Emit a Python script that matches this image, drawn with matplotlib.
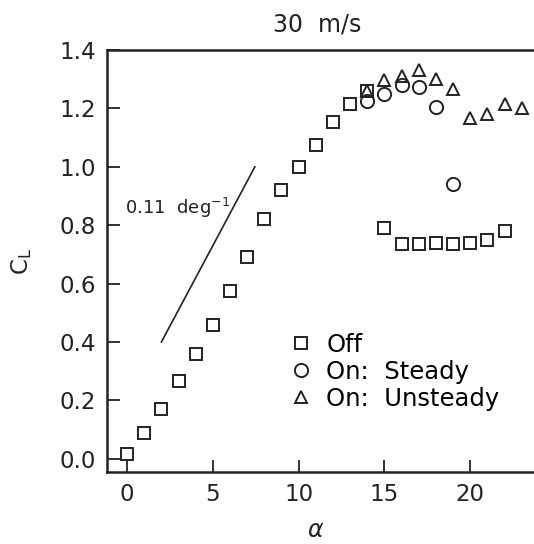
import numpy as np
import matplotlib.pyplot as plt

plt.rcParams['font.family'] = 'DejaVu Sans'

# data
alpha_off = [0, 1, 2, 3, 4, 5, 6, 7, 8, 9, 10, 11, 12, 13, 14,
             15, 16, 17, 18, 19, 20, 21, 22]
cl_off = [0.015, 0.09, 0.17, 0.265, 0.36, 0.46, 0.575, 0.69, 0.82, 0.92, 1.0,
          1.075, 1.155, 1.215, 1.26,
          0.79, 0.735, 0.735, 0.74, 0.735, 0.74, 0.75, 0.78]

alpha_steady = [14, 15, 16, 17, 18, 19]
cl_steady = [1.225, 1.25, 1.28, 1.275, 1.205, 0.94]

alpha_unsteady = [14, 15, 16, 17, 18, 19, 20, 21, 22, 23]
cl_unsteady = [1.26, 1.297, 1.31, 1.33, 1.302, 1.267, 1.168, 1.18, 1.216, 1.202]

# lift slope reference line
slope_x = [2.0, 7.45]
slope_y = [0.4, 1.0]

ink = '#222222'

fig = plt.figure(figsize=(5.34, 5.44), dpi=100)
ax = fig.add_axes([107 / 534, 1 - 472 / 544, 449 / 534, 422 / 544])

ax.plot(alpha_off, cl_off, 's', ms=9, mfc='none', mec=ink, mew=1.4,
        linestyle='none', label='Off')
ax.plot(alpha_steady, cl_steady, 'o', ms=9.5, mfc='none', mec=ink, mew=1.4,
        linestyle='none', label='On:  Steady')
ax.plot(alpha_unsteady, cl_unsteady, '^', ms=8, mfc='none', mec=ink, mew=1.4,
        linestyle='none', label='On:  Unsteady')

ax.plot(slope_x, slope_y, '-', color=ink, lw=1.2)
ax.text(-0.1, 0.86, '0.11  deg$^{-1}$', fontsize=13, color=ink,
        ha='left', va='center')

ax.set_xlim(-1.17, 25)
ax.set_ylim(-0.045, 1.4)
ax.set_xticks([0, 5, 10, 15, 20])
ax.set_yticks(np.arange(0, 1.41, 0.2))
ax.set_yticklabels(['%.1f' % v for v in np.arange(0, 1.41, 0.2)])

ax.tick_params(direction='in', length=9, width=1.3, labelsize=16.5,
               colors=ink, pad=8)
for s in ax.spines.values():
    s.set_linewidth(1.8)
    s.set_color(ink)

ax.set_ylabel('C$_\\mathregular{L}$', fontsize=16.5, color=ink, labelpad=18)
fig.text(316 / 534, 1 - 530 / 544, '$\\alpha$', fontsize=17, color=ink,
         ha='center', va='center')
fig.text(317 / 534, 1 - 24 / 544, '30  m/s', fontsize=17, color=ink,
         ha='center', va='center')

ax.legend(loc='upper left', bbox_to_anchor=(290 / 534, 1 - 333 / 544),
          bbox_transform=fig.transFigure, frameon=False, fontsize=17.5,
          handlelength=0.9, handletextpad=0.6, labelspacing=0.12,
          borderpad=0, borderaxespad=0)

fig.savefig('out.png', dpi=100)
